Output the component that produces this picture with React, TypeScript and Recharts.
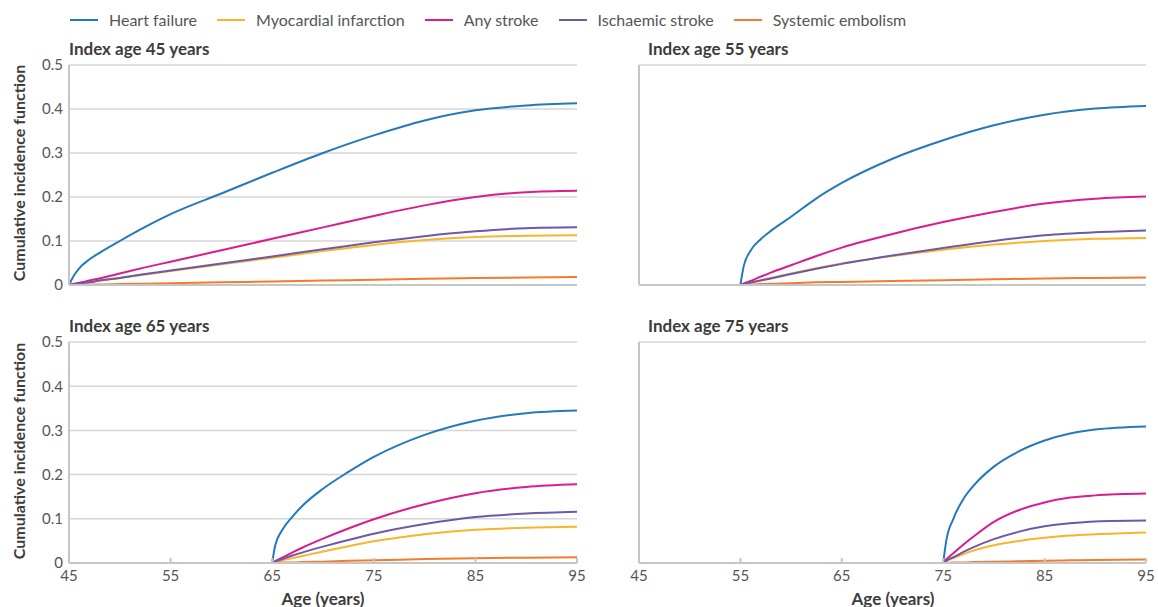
import { LineChart, Line, XAxis, YAxis, CartesianGrid } from "recharts";

const SERIES = [
  { key: "hf", name: "Heart failure", color: "#2479bd" },
  { key: "mi", name: "Myocardial infarction", color: "#fbb42a" },
  { key: "stroke", name: "Any stroke", color: "#da1d8c" },
  { key: "isch", name: "Ischaemic stroke", color: "#6c59a8" },
  { key: "se", name: "Systemic embolism", color: "#f47b2b" },
];

const X_TICKS = [45, 55, 65, 75, 85, 95];
const Y_TICKS = [0, 0.1, 0.2, 0.3, 0.4, 0.5];

// index age 45
const AGES_45 = [45, 45.5, 46, 47, 48, 50, 52.5, 55, 60, 65, 70, 75, 80, 85, 90, 95];
const HF_45 = [0, 0.022, 0.038, 0.058, 0.073, 0.1, 0.132, 0.161, 0.208, 0.255, 0.3, 0.34, 0.374, 0.397, 0.408, 0.413];
const MI_45 = [0, 0.002, 0.003, 0.006, 0.01, 0.016, 0.024, 0.032, 0.047, 0.062, 0.077, 0.091, 0.102, 0.109, 0.112, 0.113];
const STROKE_45 = [0, 0.003, 0.005, 0.01, 0.015, 0.026, 0.04, 0.053, 0.079, 0.105, 0.131, 0.157, 0.181, 0.2, 0.211, 0.214];
const ISCH_45 = [0, 0.002, 0.003, 0.006, 0.01, 0.016, 0.025, 0.033, 0.049, 0.065, 0.081, 0.097, 0.111, 0.122, 0.129, 0.131];
const SE_45 = [0, 0, 0, 0.001, 0.001, 0.002, 0.003, 0.004, 0.006, 0.008, 0.01, 0.012, 0.014, 0.016, 0.017, 0.018];

// index age 55
const AGES_55 = [55, 55.3, 56, 57, 58, 60, 62.5, 65, 70, 75, 80, 85, 90, 95];
const HF_55 = [0, 0.04, 0.078, 0.104, 0.123, 0.155, 0.197, 0.232, 0.287, 0.329, 0.363, 0.387, 0.401, 0.407];
const MI_55 = [0, 0.002, 0.006, 0.011, 0.016, 0.026, 0.038, 0.049, 0.066, 0.08, 0.092, 0.1, 0.105, 0.107];
const STROKE_55 = [0, 0.003, 0.009, 0.019, 0.028, 0.045, 0.066, 0.085, 0.116, 0.143, 0.166, 0.185, 0.196, 0.201];
const ISCH_55 = [0, 0.002, 0.005, 0.01, 0.015, 0.025, 0.037, 0.048, 0.067, 0.084, 0.1, 0.113, 0.12, 0.124];
const SE_55 = [0, 0, 0.001, 0.002, 0.003, 0.004, 0.006, 0.007, 0.009, 0.011, 0.013, 0.015, 0.016, 0.017];

// index age 65
const AGES_65 = [65, 65.3, 66, 67, 68, 70, 72.5, 75, 80, 85, 90, 95];
const HF_65 = [0, 0.04, 0.075, 0.105, 0.13, 0.168, 0.206, 0.24, 0.29, 0.322, 0.339, 0.345];
const MI_65 = [0, 0.002, 0.006, 0.011, 0.016, 0.026, 0.038, 0.049, 0.065, 0.075, 0.08, 0.082];
const STROKE_65 = [0, 0.004, 0.012, 0.024, 0.035, 0.055, 0.078, 0.099, 0.133, 0.158, 0.172, 0.178];
const ISCH_65 = [0, 0.003, 0.009, 0.017, 0.024, 0.037, 0.052, 0.066, 0.088, 0.104, 0.112, 0.116];
const SE_65 = [0, 0, 0.001, 0.001, 0.002, 0.003, 0.005, 0.006, 0.009, 0.011, 0.012, 0.013];

// index age 75
const AGES_75 = [75, 75.3, 76, 77, 78, 80, 82.5, 85, 87.5, 90, 95];
const HF_75 = [0, 0.05, 0.1, 0.145, 0.175, 0.218, 0.253, 0.277, 0.293, 0.302, 0.309];
const MI_75 = [0, 0.004, 0.011, 0.02, 0.028, 0.04, 0.05, 0.057, 0.062, 0.065, 0.069];
const STROKE_75 = [0, 0.008, 0.022, 0.042, 0.06, 0.093, 0.12, 0.137, 0.148, 0.153, 0.157];
const ISCH_75 = [0, 0.005, 0.013, 0.025, 0.036, 0.054, 0.071, 0.083, 0.09, 0.094, 0.096];
const SE_75 = [0, 0, 0.001, 0.001, 0.002, 0.003, 0.004, 0.005, 0.006, 0.007, 0.008];

const PANELS = [
  { title: "Index age 45 years", ages: AGES_45, hf: HF_45, mi: MI_45, stroke: STROKE_45, isch: ISCH_45, se: SE_45, left: 0, top: 55, yLabels: true, xLabels: false },
  { title: "Index age 55 years", ages: AGES_55, hf: HF_55, mi: MI_55, stroke: STROKE_55, isch: ISCH_55, se: SE_55, left: 579, top: 55, yLabels: false, xLabels: false },
  { title: "Index age 65 years", ages: AGES_65, hf: HF_65, mi: MI_65, stroke: STROKE_65, isch: ISCH_65, se: SE_65, left: 0, top: 332, yLabels: true, xLabels: true },
  { title: "Index age 75 years", ages: AGES_75, hf: HF_75, mi: MI_75, stroke: STROKE_75, isch: ISCH_75, se: SE_75, left: 579, top: 332, yLabels: false, xLabels: true },
];

const FONT = "Lato, 'Open Sans', sans-serif";
const AXIS = "#c6c6c6";
const TEXT = "#555555";
const DARK = "#3c3c3c";

function Panel({ p }: { p: any }) {
  const rows = p.ages.map((age: number, i: number) => ({
    age,
    hf: p.hf[i],
    mi: p.mi[i],
    stroke: p.stroke[i],
    isch: p.isch[i],
    se: p.se[i],
  }));
  const width = p.left === 0 ? 590 : 580;
  const xh = p.xLabels ? 25 : 10;
  const height = p.xLabels ? 256 : 240;
  return (
    <div style={{ position: "absolute", left: p.left, top: p.top }}>
      <div
        style={{
          position: "absolute",
          left: 69,
          top: -15,
          fontSize: 17,
          fontWeight: 700,
          color: DARK,
          whiteSpace: "nowrap",
          lineHeight: "17px",
        }}
      >
        {p.title}
      </div>
      <LineChart width={width} height={height} data={rows} margin={{ top: 10, right: 13, bottom: 0, left: p.left === 0 ? 9 : 0 }}>
        <CartesianGrid vertical={false} stroke="#d6d6d6" strokeWidth={1.5} />
        <XAxis
          dataKey="age"
          type="number"
          domain={[45, 95]}
          ticks={X_TICKS}
          interval={0}
          height={xh}
          stroke={AXIS}
          strokeWidth={2}
          tickSize={-5}
          tickMargin={12}
          tick={p.xLabels ? { fill: TEXT, fontSize: 15, fontFamily: FONT } : false}
        />
        <YAxis
          type="number"
          domain={[0, 0.5]}
          ticks={Y_TICKS}
          width={60}
          stroke={AXIS}
          strokeWidth={2}
          tickLine={false}
          tickSize={0}
          tickMargin={6}
          tick={p.yLabels ? { fill: TEXT, fontSize: 15, fontFamily: FONT } : false}
        />
        {SERIES.map((s) => (
          <Line
            key={s.key}
            dataKey={s.key}
            name={s.name}
            type="monotone"
            stroke={s.color}
            strokeWidth={2}
            dot={false}
            isAnimationActive={false}
          />
        ))}
      </LineChart>
    </div>
  );
}

export default function App() {
  return (
    <div
      style={{
        position: "absolute",
        left: 0,
        top: 0,
        width: 1158,
        height: 607,
        background: "#fff",
        fontFamily: FONT,
        overflow: "hidden",
      }}
    >
      <div style={{ position: "absolute", left: 70, top: 11, display: "flex", alignItems: "center", whiteSpace: "nowrap" }}>
        {SERIES.map((s) => (
          <div key={s.key} style={{ display: "flex", alignItems: "center", marginRight: 20 }}>
            <div style={{ width: 28, height: 2, background: s.color, marginRight: 11 }} />
            <span style={{ fontSize: 16, color: TEXT, lineHeight: "18px" }}>{s.name}</span>
          </div>
        ))}
      </div>
      {PANELS.map((p) => (
        <Panel key={p.title} p={p} />
      ))}
      {[173, 451].map((cy) => (
        <div
          key={cy}
          style={{
            position: "absolute",
            left: 18,
            top: cy,
            transform: "translate(-50%, -50%) rotate(-90deg)",
            fontSize: 16,
            fontWeight: 700,
            color: DARK,
            whiteSpace: "nowrap",
          }}
        >
          Cumulative incidence function
        </div>
      ))}
      {[323, 893].map((cx) => (
        <div
          key={cx}
          style={{
            position: "absolute",
            left: cx,
            top: 598,
            transform: "translate(-50%, -50%)",
            fontSize: 17,
            fontWeight: 700,
            color: DARK,
            whiteSpace: "nowrap",
          }}
        >
          Age (years)
        </div>
      ))}
    </div>
  );
}
